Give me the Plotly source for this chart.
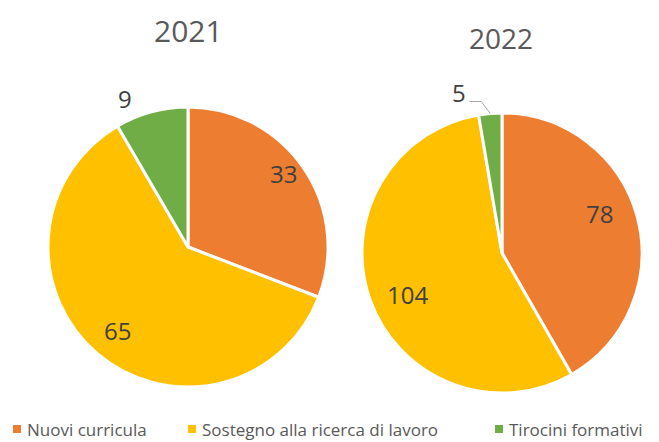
import math
import plotly.graph_objects as go

categories = ["Nuovi curricula", "Sostegno alla ricerca di lavoro", "Tirocini formativi"]
years = ["2021", "2022"]
values_2021 = [33, 65, 9]
values_2022 = [78, 104, 5]
colors = ["#ED7D31", "#FFC000", "#70AD47"]

# the page body adds an 8px margin; size the figure so it fits the 659x442 window
OFF = 8
W, H = 659 - OFF, 442 - OFF
FONT = "Open Sans"
TXT = "#404040"

# pie geometry in window pixels (center x, center y, radius)
pies = [(188, 247, 140), (502, 253, 140)]
series = [values_2021, values_2022]
# label radial factor for inside labels (None = outside label)
inside_factor = [[0.86, 0.78, None], [0.75, 0.74, None]]
angle_shift = [[-3, 0, -8], [-7, -4, 0]]

def px2paper(x, y):
    return (x - OFF) / W, 1 - (y - OFF) / H

def label(x, y, text, size, color, xanchor="center", pad=1):
    px, py = px2paper(x, y)
    return dict(x=px, y=py, xref="paper", yref="paper", text=text, showarrow=False,
                xanchor=xanchor, yanchor="middle", borderpad=pad,
                font=dict(family=FONT, size=size, color=color))

fig = go.Figure()
for i, (vals, (cx, cy, r)) in enumerate(zip(series, pies)):
    x0, y1 = px2paper(cx - r, cy - r)
    x1, y0 = px2paper(cx + r, cy + r)
    fig.add_trace(go.Pie(
        labels=categories, values=vals, sort=False, direction="clockwise",
        rotation=0, marker=dict(colors=colors, line=dict(color="white", width=3)),
        textinfo="none", hoverinfo="label+value",
        domain=dict(x=[x0, x1], y=[y0, y1]), showlegend=False,
    ))

annotations = []
shapes = []
for i, (vals, (cx, cy, r)) in enumerate(zip(series, pies)):
    total = sum(vals)
    cum = 0
    for j, v in enumerate(vals):
        mid = (cum + v / 2) / total * 360 + angle_shift[i][j]
        cum += v
        a = math.radians(mid)
        f = inside_factor[i][j]
        if f is not None:
            lx, ly = cx + f * r * math.sin(a), cy - f * r * math.cos(a)
            annotations.append(label(lx, ly, str(v), 24, TXT))
        elif i == 0:
            lx, ly = cx + 1.15 * r * math.sin(a), cy - 1.15 * r * math.cos(a)
            annotations.append(label(lx, ly, str(v), 24, TXT))
        else:
            ex, ey = cx + r * math.sin(a), cy - r * math.cos(a)
            kx, ky = ex - 9, ey - 12
            sx = kx - 12
            p = [px2paper(ex, ey), px2paper(kx, ky), px2paper(sx, ky)]
            shapes.append(dict(type="path", xref="paper", yref="paper",
                               path="M {} {} L {} {} L {} {}".format(p[0][0], p[0][1], p[1][0], p[1][1], p[2][0], p[2][1]),
                               line=dict(color="#A6A6A6", width=1)))
            annotations.append(label(sx - 10, ky - 9, str(v), 24, TXT))

title_pos = [(188, 30, 30), (501, 38, 28)]
for yr, (tx, ty, fs) in zip(years, title_pos):
    annotations.append(label(tx, ty, yr, fs, "#595959"))

# legend (drawn as squares + labels)
legend_x = [13, 188, 495]
legend_y = 429
for cat, col, lx in zip(categories, colors, legend_x):
    x0, y0 = px2paper(lx, legend_y + 4)
    x1, y1 = px2paper(lx + 8, legend_y - 4)
    shapes.append(dict(type="rect", xref="paper", yref="paper", x0=x0, x1=x1, y0=y0, y1=y1,
                       fillcolor=col, line=dict(width=0)))
    annotations.append(label(lx + 13, legend_y, cat, 17, "#595959", xanchor="left", pad=0))

fig.update_layout(
    width=W, height=H, margin=dict(l=0, r=0, t=0, b=0, autoexpand=False),
    paper_bgcolor="white", plot_bgcolor="white",
    annotations=annotations, shapes=shapes, showlegend=False,
)
fig.write_html("out.html")
